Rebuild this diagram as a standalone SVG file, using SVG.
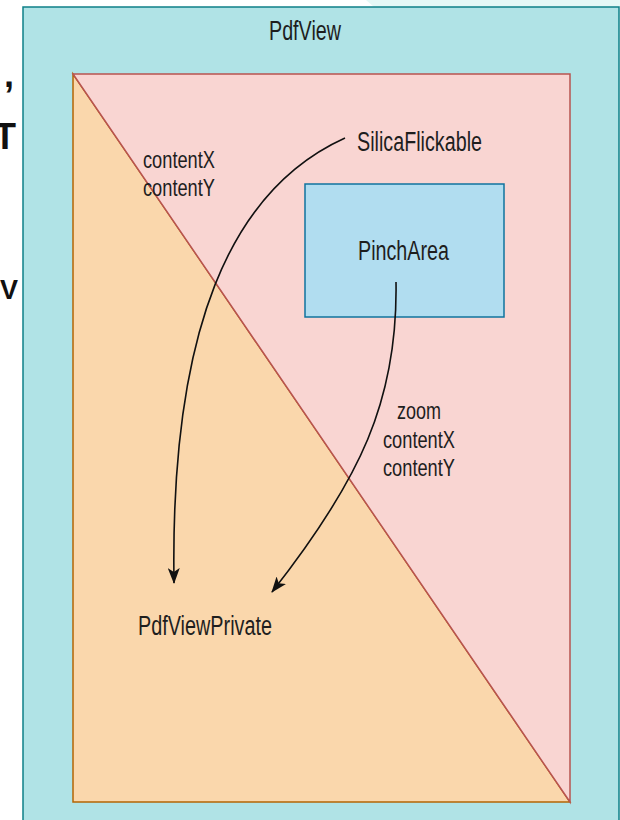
<svg xmlns="http://www.w3.org/2000/svg" width="620" height="820" viewBox="0 0 620 820">
  <style>
    .lbl { font-family: "Liberation Sans", Arial, sans-serif; fill: #1e1e1e; }
    .big { font-size: 27px; }
    .sm { font-size: 24px; }
    .frag { font-family: "Liberation Sans", Arial, sans-serif; font-weight: bold; fill: #111; }
    .conn { fill: none; stroke: #111; stroke-width: 1.6; }
  </style>
  <defs>
    <marker id="arrow" markerUnits="userSpaceOnUse" viewBox="0 0 16 12" markerWidth="16" markerHeight="12" refX="15" refY="6" orient="auto">
      <path d="M0,0 L16,6 L0,12 L4,6 Z" fill="#111"/>
    </marker>
  </defs>
  <rect x="0" y="0" width="620" height="820" fill="#ffffff"/>
  <polygon points="366,0 620,0 620,7 374,7" fill="#e5f8f6"/>
  <g id="fragments">
    <text class="frag" x="4" y="87" font-size="36">,</text>
    <text class="frag" x="-6" y="149" font-size="36">T</text>
    <text class="frag" x="0" y="299" font-size="27">V</text>
  </g>
  <g id="pdfview">
    <rect x="23" y="7" width="596" height="830" fill="#b0e3e6" stroke="#0e8088" stroke-width="1.5"/>
    <text class="lbl big" x="269" y="40" textLength="72" lengthAdjust="spacingAndGlyphs">PdfView</text>
  </g>
  <g id="pdfviewprivate">
    <polygon points="73,74 73,802 570,802" fill="#fad7ac" stroke="#b46504" stroke-width="1.5"/>
    <text class="lbl big" x="138" y="635" textLength="134" lengthAdjust="spacingAndGlyphs">PdfViewPrivate</text>
  </g>
  <g id="silicaflickable">
    <polygon points="73,74 570,74 570,802" fill="#f9d5d2" stroke="#b85450" stroke-width="1.5"/>
    <text class="lbl big" x="357" y="151" textLength="125" lengthAdjust="spacingAndGlyphs">SilicaFlickable</text>
  </g>
  <g id="pincharea">
    <rect x="305" y="184" width="199" height="133" fill="#b1ddf0" stroke="#10739e" stroke-width="1.5"/>
    <text class="lbl big" x="358" y="260" textLength="91" lengthAdjust="spacingAndGlyphs">PinchArea</text>
  </g>
  <g id="connectors">
    <path class="conn" d="M345,138 C230,190 170,330 174,583" marker-end="url(#arrow)"/>
    <path class="conn" d="M396,282 C398,400 360,480 272,592" marker-end="url(#arrow)"/>
    <g id="label-flick">
      <text class="lbl sm" x="143" y="168" textLength="72" lengthAdjust="spacingAndGlyphs">contentX</text>
      <text class="lbl sm" x="143" y="196" textLength="72" lengthAdjust="spacingAndGlyphs">contentY</text>
    </g>
    <g id="label-pinch">
      <text class="lbl sm" x="397" y="419" textLength="44" lengthAdjust="spacingAndGlyphs">zoom</text>
      <text class="lbl sm" x="383" y="448" textLength="72" lengthAdjust="spacingAndGlyphs">contentX</text>
      <text class="lbl sm" x="383" y="476" textLength="72" lengthAdjust="spacingAndGlyphs">contentY</text>
    </g>
  </g>
</svg>
